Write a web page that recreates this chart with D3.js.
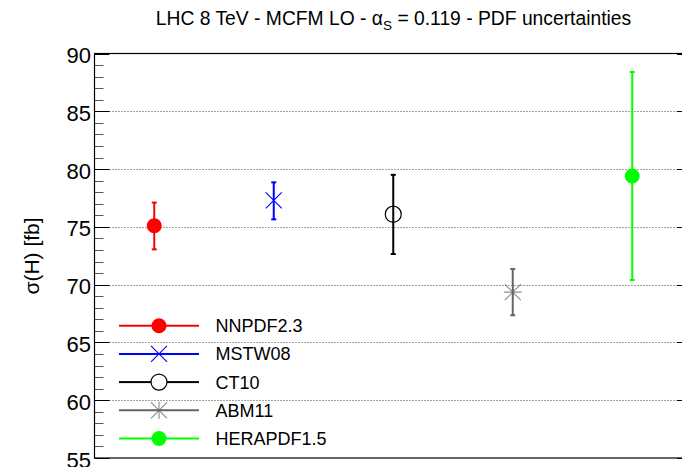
<!DOCTYPE html>
<html>
<head>
<meta charset="utf-8">
<script src="https://cdn.jsdelivr.net/npm/d3@7"></script>
<style>
  html, body { margin: 0; padding: 0; background: #fff; }
  svg { display: block; font-family: "Liberation Sans", Arial, sans-serif; }
</style>
</head>
<body>
<svg id="chart" width="682" height="467"></svg>
<script>
// PDF sets, central cross sections and symmetric PDF uncertainties (fb)
const pdfSets   = ["NNPDF2.3", "MSTW08", "CT10", "ABM11", "HERAPDF1.5"];
const central   = [75.1, 77.3, 76.1, 69.35, 79.4];
const errUp     = [2.0, 1.55, 3.4, 2.0, 9.0];
const errDown   = [2.05, 1.65, 3.45, 2.0, 9.0];
const colors    = ["#ff0000", "#0000ff", "#000000", "#666666", "#00ff00"];
const markers   = ["dot", "cross", "circle", "star", "dot"];
const yTicks    = [55, 60, 65, 70, 75, 80, 85, 90];
const gridTicks = [60, 65, 70, 75, 80, 85];

const svg = d3.select("#chart");

const x = d3.scaleLinear().domain([0, pdfSets.length]).range([94.5, 692]);
const y = d3.scaleLinear().domain([55, 90]).range([458, 53.5]);

// Dotted horizontal grid
svg.append("g").selectAll("line").data(gridTicks).join("line")
  .attr("x1", x(0)).attr("x2", x(5))
  .attr("y1", d => Math.round(y(d)) + 0.5).attr("y2", d => Math.round(y(d)) + 0.5)
  .attr("stroke", "#444").attr("stroke-width", 1).attr("stroke-dasharray", "1,2");

// Minor and major ticks on both vertical axes
const minorTicks = d3.range(55, 91, 1);
const ticks = svg.append("g").attr("stroke", "#000").attr("stroke-width", 1);
minorTicks.forEach(v => {
  const major = v % 5 === 0;
  const len = major ? 15 : 9;
  const yy = Math.round(y(v)) + 0.5;
  ticks.append("line").attr("x1", x(0)).attr("x2", x(0) + len).attr("y1", yy).attr("y2", yy)
    .attr("stroke", major ? "#000" : "#555");
  ticks.append("line").attr("x1", x(5)).attr("x2", x(5) - len).attr("y1", yy).attr("y2", yy)
    .attr("stroke", major ? "#000" : "#555");
});

// Frame
svg.append("rect")
  .attr("x", x(0)).attr("y", y(90))
  .attr("width", x(5) - x(0)).attr("height", y(55) - y(90))
  .attr("fill", "none").attr("stroke", "#000").attr("stroke-width", 1.2);

// Y tick labels
svg.append("g").selectAll("text").data(yTicks).join("text")
  .attr("x", 91).attr("y", d => y(d) + 9.5)
  .attr("text-anchor", "end").attr("font-size", 22).attr("fill", "#000")
  .text(d => d);

// Y axis title
svg.append("text")
  .attr("transform", "translate(39,256) rotate(-90)")
  .attr("text-anchor", "middle").attr("font-size", 21)
  .text("σ(H) [fb]");

// Title with subscript
const title = svg.append("text")
  .attr("x", 393.5).attr("y", 25)
  .attr("text-anchor", "middle").attr("font-size", 19.3);
title.append("tspan").text("LHC 8 TeV - MCFM LO - α");
title.append("tspan").attr("font-size", 13.5).attr("dy", 5).text("S");
title.append("tspan").attr("dy", -5).text(" = 0.119 - PDF uncertainties");

// Marker drawing helper
function drawMarker(g, type, cx, cy, color) {
  if (type === "dot") {
    g.append("circle").attr("cx", cx).attr("cy", cy).attr("r", 7.5).attr("fill", color);
  } else if (type === "circle") {
    g.append("circle").attr("cx", cx).attr("cy", cy).attr("r", 8)
      .attr("fill", "none").attr("stroke", color).attr("stroke-width", 1.2);
  } else if (type === "cross") {
    const s = 8;
    g.append("path").attr("d", `M${cx - s},${cy - s}L${cx + s},${cy + s}M${cx - s},${cy + s}L${cx + s},${cy - s}`)
      .attr("stroke", color).attr("stroke-width", 1.1).attr("fill", "none");
  } else if (type === "star") {
    const s = 8;
    g.append("path").attr("d",
      `M${cx - s},${cy - s}L${cx + s},${cy + s}M${cx - s},${cy + s}L${cx + s},${cy - s}` +
      `M${cx - s * 1.1},${cy}L${cx + s * 1.1},${cy}M${cx},${cy - s * 1.1}L${cx},${cy + s * 1.1}`)
      .attr("stroke", color).attr("stroke-opacity", 0.75).attr("stroke-width", 1.1).attr("fill", "none");
  }
}

// Error bars and markers
const pts = svg.append("g");
pdfSets.forEach((name, i) => {
  const cx = x(i + 0.5);
  const g = pts.append("g");
  const yt = y(central[i] + errUp[i]), yb = y(central[i] - errDown[i]);
  g.append("line").attr("x1", cx).attr("x2", cx).attr("y1", yt).attr("y2", yb)
    .attr("stroke", colors[i]).attr("stroke-width", 2);
  [yt, yb].forEach(yy => g.append("line")
    .attr("x1", cx - 2.5).attr("x2", cx + 2.5).attr("y1", yy).attr("y2", yy)
    .attr("stroke", colors[i]).attr("stroke-width", 2));
  drawMarker(g, markers[i], cx, y(central[i]), colors[i]);
});

// Legend
const legend = svg.append("g");
pdfSets.forEach((name, i) => {
  const ly = 325.7 + i * 28.2;
  const g = legend.append("g");
  if (markers[i] === "circle") {
    g.append("line").attr("x1", 119).attr("x2", 151).attr("y1", ly).attr("y2", ly)
      .attr("stroke", colors[i]).attr("stroke-width", 2);
    g.append("line").attr("x1", 167).attr("x2", 199).attr("y1", ly).attr("y2", ly)
      .attr("stroke", colors[i]).attr("stroke-width", 2);
  } else {
    g.append("line").attr("x1", 119).attr("x2", 199).attr("y1", ly).attr("y2", ly)
      .attr("stroke", colors[i]).attr("stroke-width", 2);
  }
  drawMarker(g, markers[i], 159, ly, colors[i]);
  g.append("text").attr("x", 215.5).attr("y", ly + 6.5)
    .attr("font-size", 18).attr("fill", "#000").text(name);
});
</script>
</body>
</html>
